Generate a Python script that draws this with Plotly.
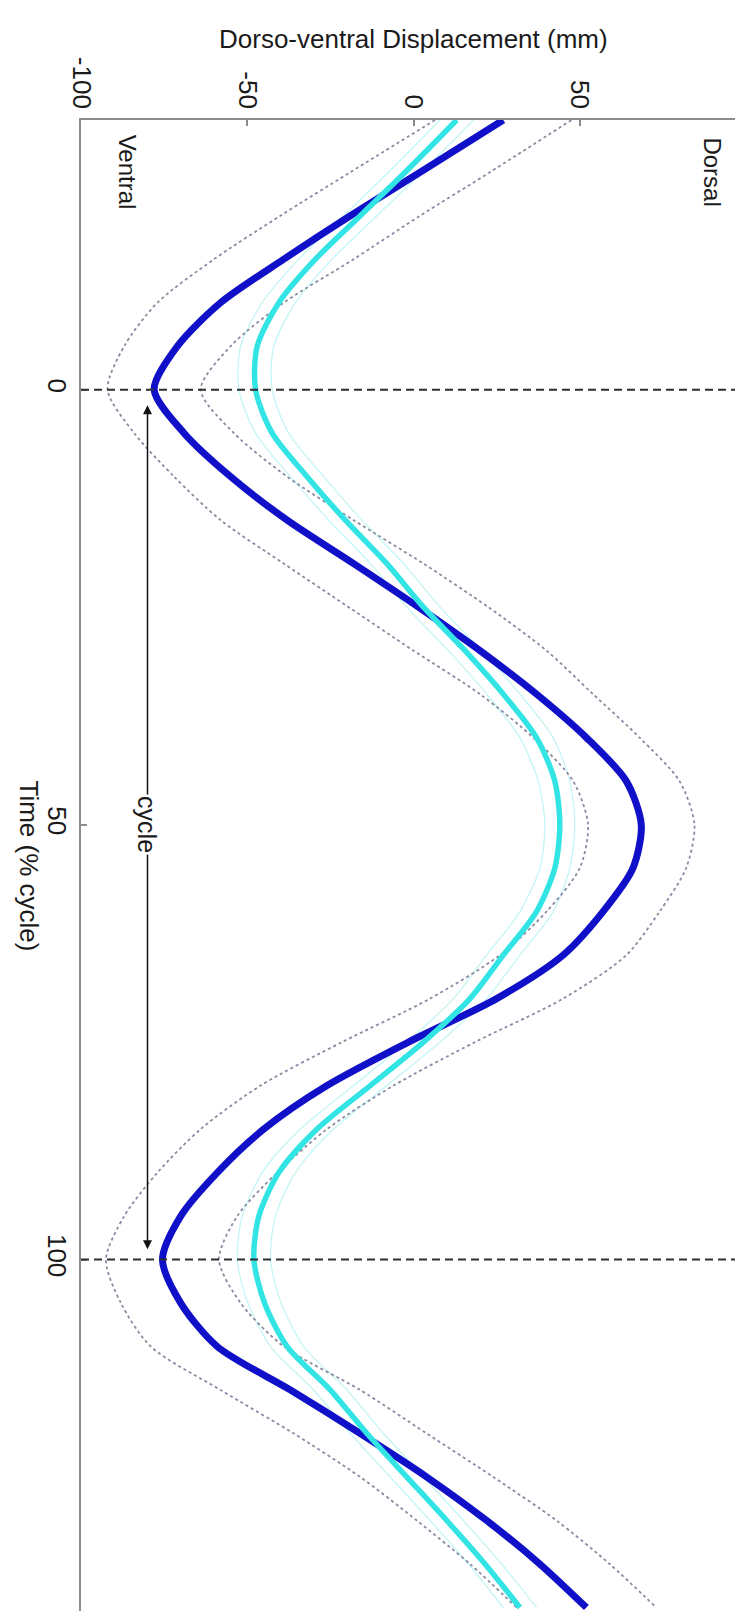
import plotly.graph_objects as go

# Time (% cycle) samples (vertical axis, increasing downward)
time_pct = [-31, -25, -20, -15, -10, -5, 0, 5, 10, 15, 20, 25, 30, 35, 40, 45, 50, 55, 60,
            65, 70, 75, 80, 85, 90, 95, 100, 105, 110, 115, 120, 125, 130, 135, 140]

# Blue series: mean and +/- SD envelopes (dorso-ventral displacement, mm)
blue_mean = [27, 2, -19, -39, -58, -71, -78, -69, -55, -38, -18, 1.5, 20, 37, 52, 64, 68.5, 66, 57,
             45, 25, -1.5, -26, -45, -59, -70, -75.5, -70, -59, -37, -16, 4, 22, 38, 52]
blue_upper = [47.5, 23, 2, -18, -39, -55, -64, -54, -38, -18, 3, 22.5, 40, 54, 68, 80, 84.5, 82, 74,
              64, 45, 18.5, -6, -26, -41, -53, -58.5, -52, -39, -16, 4, 24, 43, 59, 73]
blue_lower = [6.5, -19, -40, -60, -77, -87, -92, -84, -72, -58, -39, -19.5, 0, 20, 36, 48, 52.5, 50, 40,
              26, 5, -21.5, -46, -64, -77, -87, -92.5, -88, -79, -58, -36, -16, 1, 17, 31]

# Cyan series: mean and +/- SD envelopes
cyan_mean = [13, -2.5, -16, -29.5, -40.5, -47, -47.5, -42.5, -32, -20.5, -8, 3, 15.5, 27, 37, 42.5, 44, 42.5, 37,
             27, 17, 3, -13, -29, -40.5, -46.5, -48, -44.8, -38, -25, -14, -2, 10, 21.5, 32]
cyan_upper = [18, 2.5, -11, -24.5, -35.5, -42, -42.5, -37.5, -27, -15.5, -3, 8, 20.5, 32, 42, 47, 48.5, 47, 42,
              32, 22, 8, -8, -24, -35.5, -41.5, -43, -39.8, -33, -20, -9, 3, 15, 26.5, 37]
cyan_lower = [8, -7.5, -21, -34.5, -45.5, -52, -52.5, -47.5, -37, -25.5, -13, -2, 10.5, 22, 32, 37.5, 39.5, 38, 32,
              22, 12, -2, -18, -34, -45.5, -51.5, -53, -49.8, -43, -30, -19, -7, 5, 16.5, 27]

# Axis ticks
disp_ticks = [-100, -50, 0, 50, 100]
disp_ticktext = ["-100", "-50", "0", "50", ""]
time_ticks = [0, 50, 100]
time_ticktext = ["0", "50", "100"]
cycle_marks = [0, 100]

FONT = "Liberation Sans, Arial, Helvetica, sans-serif"
TXT = "#1a1a1a"

fig = go.Figure()

def add_line(x, color, width, dash="solid"):
    fig.add_trace(go.Scatter(x=x, y=time_pct, mode="lines",
                             line=dict(color=color, width=width, dash=dash, shape="spline", smoothing=0.8),
                             showlegend=False, hoverinfo="skip"))

add_line(cyan_upper, "#c4f5f5", 1.3)
add_line(cyan_lower, "#c4f5f5", 1.3)
add_line(blue_upper, "#8a8aa2", 1.8, "dot")
add_line(blue_lower, "#8a8aa2", 1.8, "dot")
add_line(blue_mean, "#1010c8", 7)
add_line(cyan_mean, "#33e4e4", 5.5)

for t in cycle_marks:
    fig.add_hline(y=t, line=dict(color="#2e2e2e", width=2, dash="8px,5px"))

# double-headed "cycle" arrow
fig.add_annotation(x=-80, y=1.8, ax=-80, ay=99, xref="x", yref="y", axref="x", ayref="y",
                   text="", showarrow=True, arrowhead=2, arrowside="end+start",
                   arrowsize=1.2, arrowwidth=1.5, arrowcolor="#111111", standoff=0, startstandoff=0)
fig.add_annotation(x=-80, y=50, xref="x", yref="y", text="cycle", showarrow=False,
                   textangle=90, bgcolor="white", font=dict(family=FONT, size=25, color=TXT))

fig.add_annotation(x=-86, y=-25, xref="x", yref="y", text="Ventral", showarrow=False,
                   textangle=90, font=dict(family=FONT, size=24, color=TXT))
fig.add_annotation(x=90, y=-25, xref="x", yref="y", text="Dorsal", showarrow=False,
                   textangle=90, font=dict(family=FONT, size=24, color=TXT))

plot_h = 1603 - 112
plot_w = 738 - 73
fig.add_annotation(x=0.5, y=1 + (112 - 31) / plot_h, xref="paper", yref="paper",
                   text="Dorso-ventral Displacement (mm)", showarrow=False,
                   yanchor="middle", font=dict(family=FONT, size=26, color=TXT))
fig.add_annotation(x=(21 - 73) / plot_w, y=0.5, xref="paper", yref="paper",
                   text="Time (% cycle)", showarrow=False, textangle=90,
                   xanchor="center", font=dict(family=FONT, size=26, color=TXT))

fig.update_layout(
    width=743, height=1614,
    margin=dict(l=73, r=5, t=112, b=11),
    paper_bgcolor="white", plot_bgcolor="white",
    font=dict(family=FONT, color=TXT),
    xaxis=dict(range=[-100, 100], side="top", tickvals=disp_ticks, ticktext=disp_ticktext,
               tickangle=90, tickfont=dict(size=26, family=FONT, color=TXT),
               showline=True, linecolor="#8c8c8c", linewidth=2, mirror=False,
               ticks="inside", ticklen=6, tickwidth=1.5, tickcolor="#8c8c8c",
               showgrid=False, zeroline=False, automargin=False),
    yaxis=dict(range=[140.4, -31], tickvals=time_ticks, ticktext=time_ticktext,
               tickangle=90, tickfont=dict(size=26, family=FONT, color=TXT),
               showline=True, linecolor="#8c8c8c", linewidth=2, mirror=False,
               ticks="inside", ticklen=6, tickwidth=1.5, tickcolor="#8c8c8c",
               showgrid=False, zeroline=False, automargin=False),
)

fig.write_html("out.html")
